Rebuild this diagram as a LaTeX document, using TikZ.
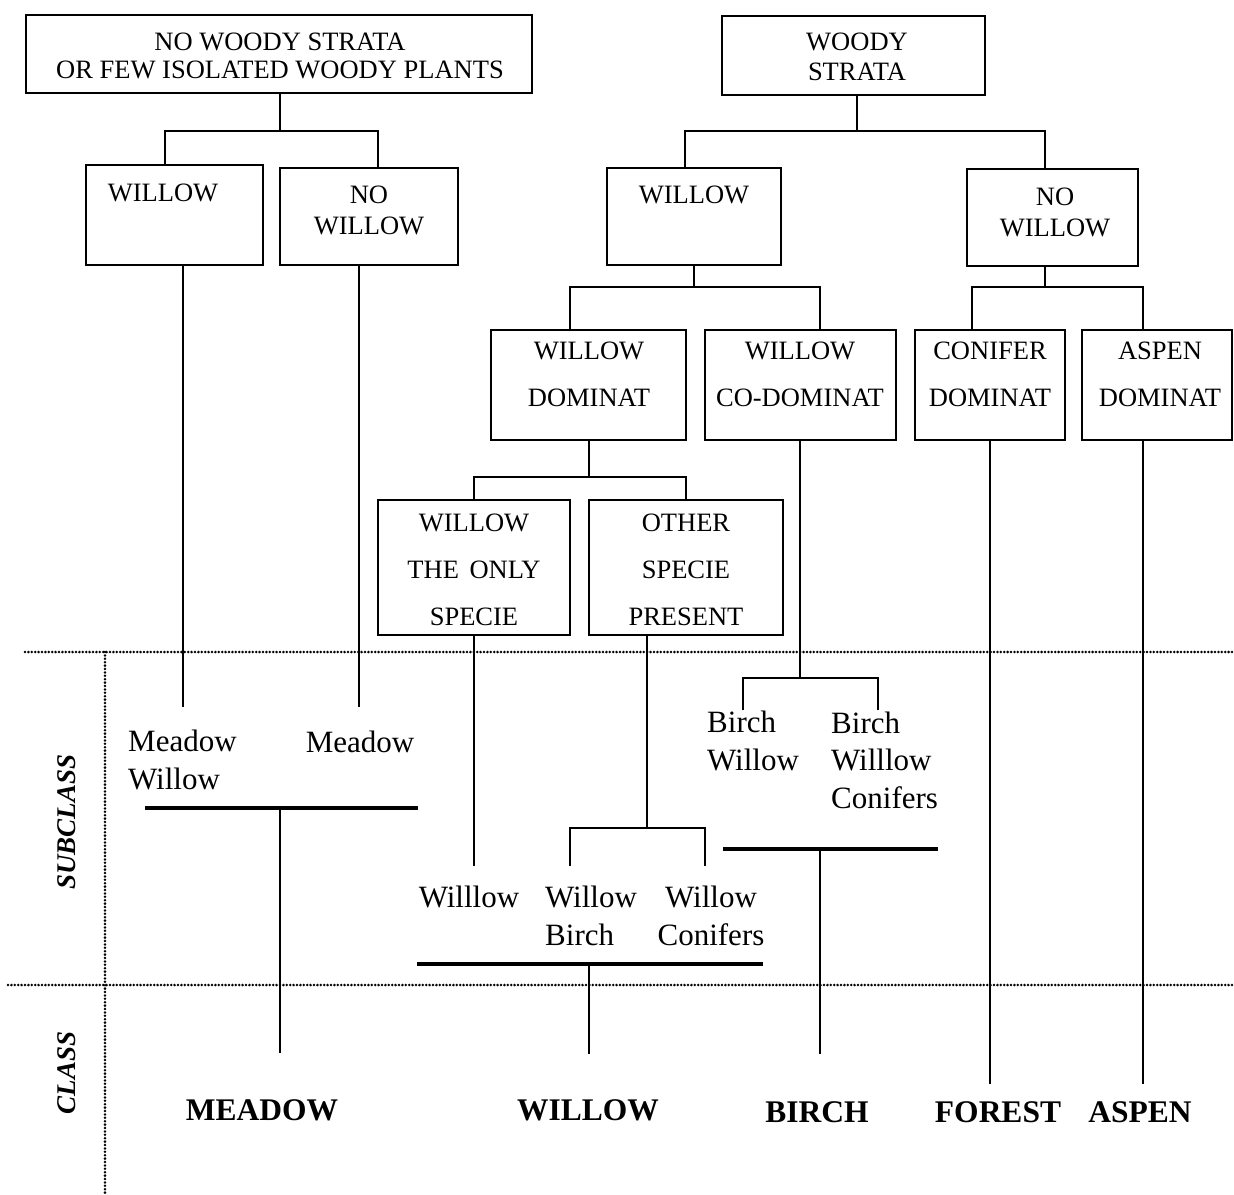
\documentclass[tikz,border=0pt]{standalone}
\usepackage{fontspec}
\setmainfont{Liberation Serif}
\usetikzlibrary{calc}

\begin{document}
\begin{tikzpicture}[
    x=1pt, y=-1pt,
    box/.style={draw, line width=2.8pt, inner sep=0pt},
    boxtxt/.style={inner sep=0pt, align=center, font=\fontsize{26.5}{30}\selectfont},
    boxtall/.style={boxtxt, font=\fontsize{26.5}{47}\selectfont},
    subtxt/.style={inner sep=0pt, align=center, font=\fontsize{31}{37.5}\selectfont},
    classtxt/.style={inner sep=0pt, font=\bfseries\fontsize{31.5}{36}\selectfont},
    axistxt/.style={inner sep=0pt, rotate=90, font=\bfseries\itshape\fontsize{27}{30}\selectfont},
    conn/.style={line width=2.1pt},
    bar/.style={line width=3.2pt},
    grid/.style={line width=2.8pt, dash pattern=on 0pt off 3.4pt, line cap=round},
]
\useasboundingbox (0,0) rectangle (1234,1194);
% ------------------------------------------------ boxes
\node[box, minimum width=506pt, minimum height=78pt] (nowoody) at (279,54) {};
\node[boxtxt, font=\fontsize{26.5}{28}\selectfont] (nowoodyt) at (280,56) {NO WOODY STRATA\\OR FEW ISOLATED WOODY PLANTS};
\node[box, minimum width=263pt, minimum height=79pt] (woody) at (853.5,55.5) {};
\node[boxtxt] (woodyt) at (857,57) {WOODY\\STRATA};

\node[box, minimum width=177pt, minimum height=100pt] (wl1) at (174.5,215) {};
\node[boxtxt] (wl1t) at (163,193) {WILLOW};
\node[box, minimum width=178pt, minimum height=97pt] (nw1) at (369,216.5) {};
\node[boxtxt, font=\fontsize{26.5}{31}\selectfont] (nw1t) at (369,210.5) {NO\\WILLOW};
\node[box, minimum width=174pt, minimum height=97pt] (wl2) at (694,216.5) {};
\node[boxtxt] (wl2t) at (694,195) {WILLOW};
\node[box, minimum width=171pt, minimum height=97pt] (nw2) at (1052.5,217.5) {};
\node[boxtxt, font=\fontsize{26.5}{31}\selectfont] (nw2t) at (1055,212.5) {NO\\WILLOW};

\node[box, minimum width=195pt, minimum height=110pt] (wdom) at (588.5,385) {};
\node[boxtall] (wdomt) at (589,374.5) {WILLOW\\DOMINAT};
\node[box, minimum width=191pt, minimum height=110pt] (wcod) at (800.5,385) {};
\node[boxtall] (wcodt) at (800,374.5) {WILLOW\\CO-DOMINAT};
\node[box, minimum width=150pt, minimum height=110pt] (cdom) at (990,385) {};
\node[boxtall] (cdomt) at (990,374.5) {CONIFER\\DOMINAT};
\node[box, minimum width=150pt, minimum height=110pt] (adom) at (1157,385) {};
\node[boxtall] (adomt) at (1160,374.5) {ASPEN\\DOMINAT};

\node[box, minimum width=192pt, minimum height=135pt] (wonly) at (474,567.5) {};
\node[boxtall] (wonlyt) at (474,570) {WILLOW\\THE\kern4pt\ ONLY\\SPECIE};
\node[box, minimum width=194pt, minimum height=135pt] (other) at (686,567.5) {};
\node[boxtall] (othert) at (686,570) {OTHER\\SPECIE\\PRESENT};

% ------------------------------------------------ box connectors
\coordinate (jA) at (280,131);
\draw[conn] (nowoody.south -| jA) -- (jA);
\draw[conn] ([xshift=-9.5pt]wl1.north) |- (jA) -| ([xshift=9pt]nw1.north);
\coordinate (jB) at (857,131);
\draw[conn] (woody.south -| jB) -- (jB);
\draw[conn] ([xshift=-9pt]wl2.north) |- (jB) -| ([xshift=-7.5pt]nw2.north);
\coordinate (jC) at (694,287);
\draw[conn] (wl2.south) -- (jC);
\draw[conn] ([xshift=-18.5pt]wdom.north) |- (jC) -| ([xshift=19.5pt]wcod.north);
\coordinate (jD) at (1045,287);
\draw[conn] ([xshift=-7.5pt]nw2.south) -- (jD);
\draw[conn] ([xshift=-18pt]cdom.north) |- (jD) -| ([xshift=-14pt]adom.north);
\coordinate (jE) at (589,477);
\draw[conn] (wdom.south -| jE) -- (jE);
\draw[conn] (wonly.north) |- (jE) -| (other.north);

% ------------------------------------------------ grid
\draw[grid] (25,652) -- (1234,652);
\draw[grid] (8,985) -- (1234,985);
\draw[grid] (105,652) -- (105,1194);
\node[axistxt] (lsub) at (67,822) {SUBCLASS};
\node[axistxt] (lcls) at (67,1073) {CLASS};

% ------------------------------------------------ subclasses
\node[subtxt, align=left, anchor=west] (tMW) at (128,760) {Meadow\\Willow};
\node[subtxt] (tM) at (360,742) {Meadow};
\node[subtxt] (tWo) at (469,897) {Willlow};
\node[subtxt, align=left, anchor=west] (tWB) at (545,916) {Willow\\Birch};
\node[subtxt] (tWC) at (711,916) {Willow\\Conifers};
\node[subtxt, align=left, anchor=west] (tBW) at (707,741) {Birch\\Willow};
\node[subtxt, align=left, anchor=west] (tBWC) at (831,760) {Birch\\Willlow\\Conifers};

\coordinate (eMW) at (183,707);
\draw[conn] ([xshift=8.5pt]wl1.south) -- (eMW);
\coordinate (eM) at (359,707);
\draw[conn] ([xshift=-10pt]nw1.south) -- (eM);
\coordinate (eWo) at (474,866);
\draw[conn] (wonly.south) -- (eWo);
\coordinate (jF) at (647,828);
\draw[conn] ([xshift=-39pt]other.south) -- (jF);
\coordinate (eWB) at (570,866);
\coordinate (eWC) at (705,866);
\draw[conn] (eWB) |- (jF) -| (eWC);
\coordinate (jG) at (800,678);
\draw[conn] (wcod.south -| jG) -- (jG);
\coordinate (eBW) at (743,710);
\coordinate (eBWC) at (878,710);
\draw[conn] (eBW) |- (jG) -| (eBWC);

% ------------------------------------------------ classes
\node[classtxt] (cmeadow) at (262,1110) {MEADOW};
\node[classtxt] (cwillow) at (588,1110) {WILLOW};
\node[classtxt] (cbirch) at (817,1112) {BIRCH};
\node[classtxt] (cforest) at (998,1112) {FOREST};
\node[classtxt] (caspen) at (1140,1112) {ASPEN};

\draw[bar] (145,808) -- (418,808);
\draw[bar] (417,964) -- (763,964);
\draw[bar] (723,849) -- (938,849);
\coordinate (bM) at (280,808);
\coordinate (bW) at (589,964);
\coordinate (bB) at (820,849);
\draw[conn, shorten >=46pt] (bM) -- (bM |- cmeadow.north);
\draw[conn, shorten >=45pt] (bW) -- (bW |- cwillow.north);
\draw[conn, shorten >=47pt] (bB) -- (bB |- cbirch.north);
\draw[conn, shorten >=17pt] (cdom.south) -- (cdom.south |- cforest.north);
\draw[conn, shorten >=17pt] ([xshift=-14pt]adom.south) -- ([xshift=-14pt]adom.south |- caspen.north);
\end{tikzpicture}
\end{document}
